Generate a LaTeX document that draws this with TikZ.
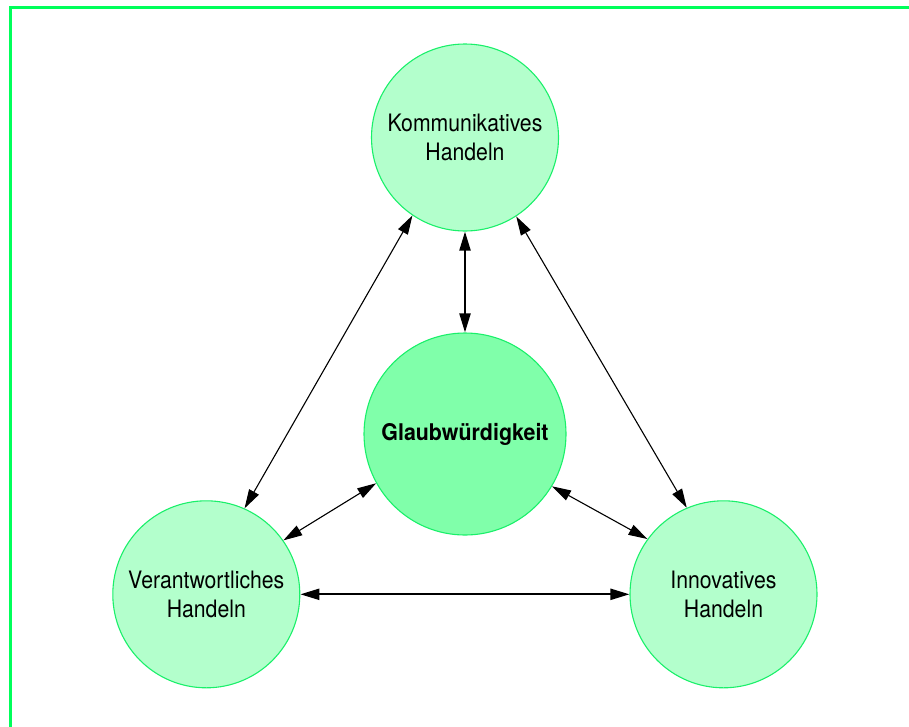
\documentclass[tikz,border=0pt]{standalone}
\usepackage{fontspec}
\setmainfont{TeX Gyre Heros}
\newfontfamily\regcond[FakeStretch=0.885]{TeX Gyre Heros}
\newfontfamily\boldcond[FakeStretch=0.93]{TeX Gyre Heros}
\usetikzlibrary{arrows.meta}
\definecolor{framegreen}{HTML}{00FF5A}
\definecolor{ringgreen}{HTML}{1AF06A}
\definecolor{outerfill}{HTML}{B3FFCC}
\definecolor{corefill}{HTML}{80FFAA}
\tikzset{
  outerbox/.style={circle, draw=ringgreen, line width=1.1pt, fill=outerfill,
    minimum size=187pt, inner sep=0pt, align=center,
    font=\regcond\fontsize{24}{28.5}\selectfont},
  corebox/.style={circle, draw=ringgreen, line width=1.1pt, fill=corefill,
    minimum size=202pt, inner sep=0pt, align=center,
    font=\boldcond\bfseries\fontsize{23}{27}\selectfont},
  headtip/.tip={Triangle[length=19pt,width=11pt]},
  thickarr/.style={line width=2.2pt, {headtip}-{headtip}},
  thinarr/.style={line width=1.1pt, {headtip}-{headtip}}
}
\begin{document}
\begin{tikzpicture}[x=1pt,y=-1pt]
\useasboundingbox (0,0) rectangle (909,726);
\draw[framegreen, line width=3pt] (10.5,7.5) rectangle (940,760);
\node[outerbox] (k) at (465,137.5) {Kommunikatives\\Handeln};
\node[corebox] (g) at (465,434) {Glaubwürdigkeit};
\node[outerbox] (v) at (206.3,594.3) {Verantwortliches\\Handeln};
\node[outerbox] (i) at (723.5,594.3) {Innovatives\\Handeln};
\draw[thickarr] (k.270) -- (g.90);
\draw[thickarr] (v.0) -- (i.180);
\draw[thinarr] (k.236.6) -- (v.66.2);
\draw[thinarr] (k.303.4) -- (i.113.8);
\draw[thinarr] (g.209.3) -- (v.35.2);
\draw[thinarr] (g.329.9) -- (i.144.8);
\end{tikzpicture}
\end{document}
